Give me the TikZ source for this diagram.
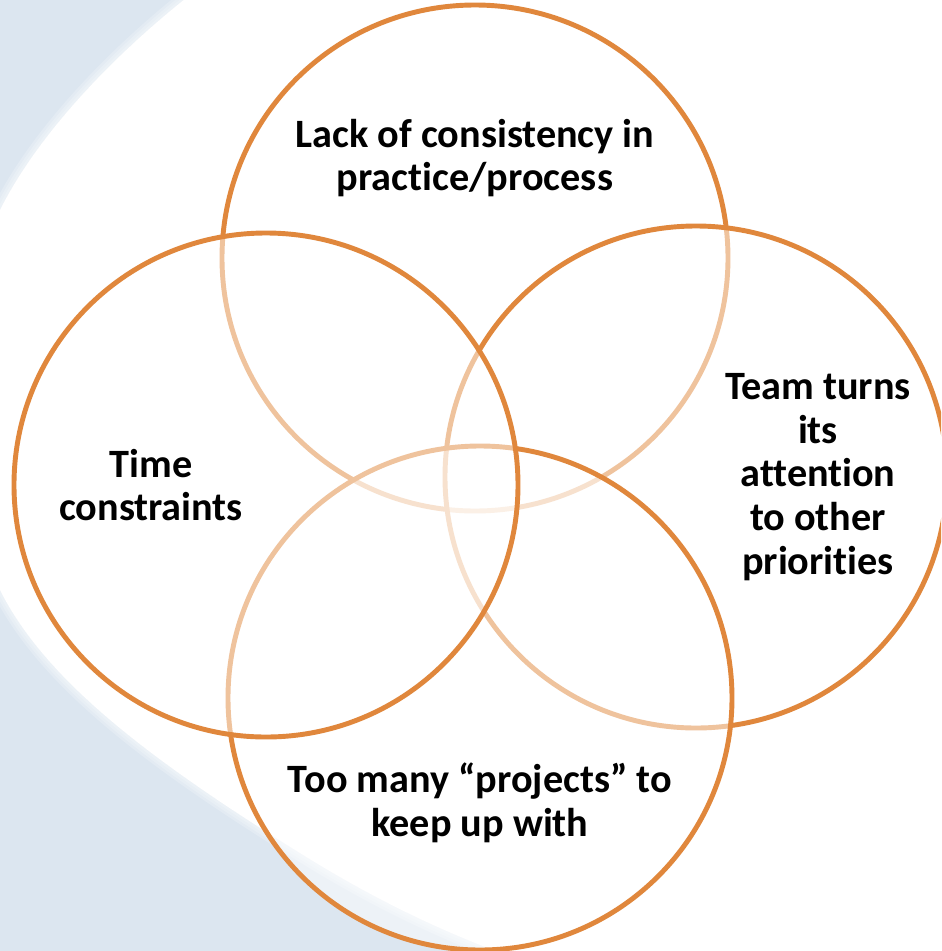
\documentclass[tikz,border=0pt]{standalone}
\usepackage{fontspec}
\setmainfont{Carlito}[Ligatures=NoCommon]

\definecolor{ringorange}{HTML}{E0873C}
\definecolor{swooshblue}{HTML}{DCE6F0}

% left edge of the white sweep over the blue backdrop
\newcommand{\swooshedge}{(190,-5) .. controls (120,50) and (40,130) .. (0,210)
  .. controls (-40,290) and (-45,500) .. (0,590)
  .. controls (45,680) and (150,760) .. (300,853)
  .. controls (380,903) and (450,935) .. (520,960)}

\tikzset{
  ring/.style={draw=ringorange, line width=2.8pt, fill=white, fill opacity=0.5},
  venntext/.style={align=center, inner sep=0pt,
    font=\fontsize{22.9}{24.8}\selectfont\bfseries}
}

\begin{document}
\begin{tikzpicture}[x=0.02cm, y=-0.02cm]
  \useasboundingbox (0,0) rectangle (941,951);
  \clip (0,0) rectangle (941,951);

  % backdrop, with a soft rim along the sweep
  \fill[swooshblue] (0,0) rectangle (941,951);
  \fill[white] \swooshedge -- (960,960) -- (960,-10) -- cycle;
  \foreach \w in {9,6,3}
    \draw[white, line width=\w pt, opacity=0.2] \swooshedge;

  % the four circles, back to front
  \coordinate (T) at (475,258);
  \coordinate (R) at (696,477);
  \coordinate (B) at (480,698);
  \coordinate (L) at (266,485);
  \draw[ring] (T) circle [radius=253];
  \draw[ring] (R) circle [radius=251];
  \draw[ring] (B) circle [radius=252];
  \draw[ring] (L) circle [radius=252];

  \node[venntext] (lack) at (475,158) {Lack of consistency in\\practice/process};
  \node[venntext] (time) at (151,485) {Time\\constraints};
  \node[venntext] (team) at (818,477) {Team turns\\its\\attention\\to other\\priorities};
  \node[venntext] (many) at (480,803) {Too many “projects” to\\keep up with};
\end{tikzpicture}
\end{document}
